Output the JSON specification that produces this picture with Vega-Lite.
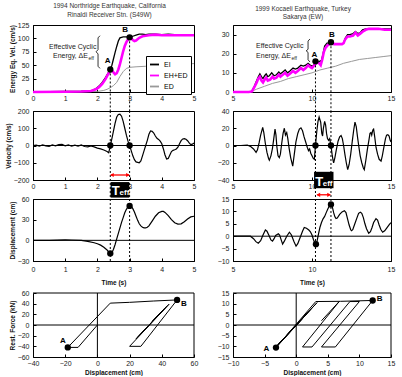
{
"$schema":"https://vega.github.io/schema/vega-lite/v6.json",
"background":"white",
"padding":{"left":4,"top":2,"right":0,"bottom":0},
"bounds":"flush",
"columns":2,
"spacing":{"row":19,"column":39},
"config":{
 "font":"Liberation Sans",
 "view":{"stroke":"black","strokeWidth":1},
 "axis":{"grid":false,"domainColor":"black","domainWidth":1,"tickColor":"black","tickSize":-3,"labelFontSize":7,"labelColor":"#222","titleFontSize":6.5,"titleFontWeight":"bold","titleColor":"#111","labelFlush":false,"labelOverlap":false},
 "axisY":{"titlePadding":2,"labelPadding":7},
 "axisX":{"titlePadding":5,"labelPadding":5},
 "title":{"fontSize":6.5,"fontWeight":"normal","color":"#333","offset":3,"lineHeight":8.5}
},
"datasets":{
 "eL":[
  {"s":"EI","x":0,"y":0},{"s":"EI","x":0.5,"y":0.5},{"s":"EI","x":1.0,"y":1},{"s":"EI","x":1.5,"y":1.5},{"s":"EI","x":1.7,"y":2},{"s":"EI","x":1.85,"y":3},{"s":"EI","x":1.95,"y":6},{"s":"EI","x":2.05,"y":11},{"s":"EI","x":2.15,"y":18},{"s":"EI","x":2.25,"y":27},{"s":"EI","x":2.35,"y":37},{"s":"EI","x":2.4,"y":42},{"s":"EI","x":2.45,"y":50},{"s":"EI","x":2.5,"y":62},{"s":"EI","x":2.55,"y":74},{"s":"EI","x":2.6,"y":85},{"s":"EI","x":2.65,"y":95},{"s":"EI","x":2.7,"y":101},{"s":"EI","x":2.8,"y":103},{"s":"EI","x":2.9,"y":103},{"s":"EI","x":3.0,"y":102},{"s":"EI","x":3.1,"y":104},{"s":"EI","x":3.2,"y":106},{"s":"EI","x":3.3,"y":108},{"s":"EI","x":3.4,"y":108},{"s":"EI","x":3.5,"y":107},{"s":"EI","x":3.6,"y":108},{"s":"EI","x":3.8,"y":108},{"s":"EI","x":4.0,"y":107},{"s":"EI","x":4.2,"y":108},{"s":"EI","x":4.4,"y":107},{"s":"EI","x":4.7,"y":107},{"s":"EI","x":5.0,"y":107},
  {"s":"EH+ED","x":0,"y":0},{"s":"EH+ED","x":1.0,"y":0.5},{"s":"EH+ED","x":1.5,"y":1},{"s":"EH+ED","x":1.8,"y":2},{"s":"EH+ED","x":1.95,"y":5},{"s":"EH+ED","x":2.05,"y":9},{"s":"EH+ED","x":2.15,"y":15},{"s":"EH+ED","x":2.25,"y":24},{"s":"EH+ED","x":2.35,"y":35},{"s":"EH+ED","x":2.42,"y":42},{"s":"EH+ED","x":2.48,"y":38},{"s":"EH+ED","x":2.55,"y":33},{"s":"EH+ED","x":2.6,"y":35},{"s":"EH+ED","x":2.65,"y":42},{"s":"EH+ED","x":2.7,"y":52},{"s":"EH+ED","x":2.75,"y":64},{"s":"EH+ED","x":2.8,"y":76},{"s":"EH+ED","x":2.85,"y":86},{"s":"EH+ED","x":2.9,"y":93},{"s":"EH+ED","x":2.95,"y":98},{"s":"EH+ED","x":3.0,"y":100},{"s":"EH+ED","x":3.05,"y":100},{"s":"EH+ED","x":3.1,"y":97},{"s":"EH+ED","x":3.15,"y":95},{"s":"EH+ED","x":3.2,"y":96},{"s":"EH+ED","x":3.3,"y":101},{"s":"EH+ED","x":3.4,"y":104},{"s":"EH+ED","x":3.5,"y":105},{"s":"EH+ED","x":3.6,"y":106},{"s":"EH+ED","x":3.8,"y":107},{"s":"EH+ED","x":4.0,"y":106},{"s":"EH+ED","x":4.3,"y":106},{"s":"EH+ED","x":4.6,"y":106},{"s":"EH+ED","x":5.0,"y":106},
  {"s":"ED","x":0,"y":0},{"s":"ED","x":1.0,"y":0.5},{"s":"ED","x":2.0,"y":1},{"s":"ED","x":2.2,"y":3},{"s":"ED","x":2.3,"y":5},{"s":"ED","x":2.4,"y":8},{"s":"ED","x":2.5,"y":12},{"s":"ED","x":2.6,"y":18},{"s":"ED","x":2.7,"y":29},{"s":"ED","x":2.8,"y":38},{"s":"ED","x":2.9,"y":44},{"s":"ED","x":3.0,"y":46},{"s":"ED","x":3.2,"y":47},{"s":"ED","x":3.5,"y":48},{"s":"ED","x":4.0,"y":50},{"s":"ED","x":4.5,"y":52},{"s":"ED","x":5.0,"y":53}
 ],
 "eR":[
  {"s":"EI","x":5,"y":0},{"s":"EI","x":6.0,"y":0},{"s":"EI","x":6.2,"y":0.5},{"s":"EI","x":6.35,"y":3},{"s":"EI","x":6.5,"y":6},{"s":"EI","x":6.6,"y":8},{"s":"EI","x":6.7,"y":9.5},{"s":"EI","x":6.8,"y":8},{"s":"EI","x":6.9,"y":7},{"s":"EI","x":7.0,"y":8.5},{"s":"EI","x":7.1,"y":9.5},{"s":"EI","x":7.2,"y":8},{"s":"EI","x":7.3,"y":8.5},{"s":"EI","x":7.45,"y":10},{"s":"EI","x":7.6,"y":8.5},{"s":"EI","x":7.75,"y":9},{"s":"EI","x":7.9,"y":10.5},{"s":"EI","x":8.0,"y":9.5},{"s":"EI","x":8.15,"y":10.5},{"s":"EI","x":8.3,"y":11.5},{"s":"EI","x":8.45,"y":10},{"s":"EI","x":8.6,"y":11},{"s":"EI","x":8.8,"y":12.5},{"s":"EI","x":8.95,"y":12},{"s":"EI","x":9.1,"y":12.5},{"s":"EI","x":9.3,"y":14},{"s":"EI","x":9.45,"y":13.5},{"s":"EI","x":9.6,"y":14},{"s":"EI","x":9.75,"y":15},{"s":"EI","x":9.9,"y":14},{"s":"EI","x":10.0,"y":13.5},{"s":"EI","x":10.1,"y":14},{"s":"EI","x":10.2,"y":15.5},{"s":"EI","x":10.35,"y":16},{"s":"EI","x":10.5,"y":16},{"s":"EI","x":10.6,"y":16.5},{"s":"EI","x":10.7,"y":20},{"s":"EI","x":10.8,"y":24},{"s":"EI","x":10.95,"y":25.5},{"s":"EI","x":11.1,"y":25.5},{"s":"EI","x":11.2,"y":25.8},{"s":"EI","x":11.4,"y":25},{"s":"EI","x":11.6,"y":25},{"s":"EI","x":11.9,"y":25},{"s":"EI","x":12.0,"y":25.5},{"s":"EI","x":12.1,"y":28},{"s":"EI","x":12.25,"y":30},{"s":"EI","x":12.4,"y":30},{"s":"EI","x":12.6,"y":30.5},{"s":"EI","x":12.75,"y":31.5},{"s":"EI","x":12.9,"y":30.5},{"s":"EI","x":13.05,"y":31},{"s":"EI","x":13.2,"y":32.5},{"s":"EI","x":13.4,"y":33},{"s":"EI","x":13.6,"y":33},{"s":"EI","x":14.2,"y":33},{"s":"EI","x":14.6,"y":33},{"s":"EI","x":15,"y":33},
  {"s":"EH+ED","x":5,"y":0},{"s":"EH+ED","x":6.0,"y":0},{"s":"EH+ED","x":6.2,"y":0.3},{"s":"EH+ED","x":6.35,"y":2.5},{"s":"EH+ED","x":6.5,"y":5},{"s":"EH+ED","x":6.6,"y":7},{"s":"EH+ED","x":6.7,"y":8},{"s":"EH+ED","x":6.8,"y":6},{"s":"EH+ED","x":6.9,"y":5},{"s":"EH+ED","x":7.0,"y":6.5},{"s":"EH+ED","x":7.1,"y":7.5},{"s":"EH+ED","x":7.2,"y":6},{"s":"EH+ED","x":7.35,"y":6.5},{"s":"EH+ED","x":7.5,"y":8},{"s":"EH+ED","x":7.6,"y":7},{"s":"EH+ED","x":7.75,"y":7.5},{"s":"EH+ED","x":7.9,"y":9},{"s":"EH+ED","x":8.0,"y":8},{"s":"EH+ED","x":8.15,"y":9},{"s":"EH+ED","x":8.3,"y":10},{"s":"EH+ED","x":8.45,"y":8.5},{"s":"EH+ED","x":8.6,"y":9.5},{"s":"EH+ED","x":8.8,"y":11},{"s":"EH+ED","x":8.95,"y":10},{"s":"EH+ED","x":9.1,"y":11},{"s":"EH+ED","x":9.3,"y":12.5},{"s":"EH+ED","x":9.45,"y":11.5},{"s":"EH+ED","x":9.6,"y":12.5},{"s":"EH+ED","x":9.75,"y":14},{"s":"EH+ED","x":9.9,"y":13},{"s":"EH+ED","x":10.0,"y":12.5},{"s":"EH+ED","x":10.1,"y":13.5},{"s":"EH+ED","x":10.2,"y":14.5},{"s":"EH+ED","x":10.35,"y":15.5},{"s":"EH+ED","x":10.45,"y":15},{"s":"EH+ED","x":10.55,"y":14},{"s":"EH+ED","x":10.65,"y":17},{"s":"EH+ED","x":10.75,"y":21},{"s":"EH+ED","x":10.85,"y":23},{"s":"EH+ED","x":11.0,"y":24.5},{"s":"EH+ED","x":11.2,"y":25.5},{"s":"EH+ED","x":11.4,"y":25},{"s":"EH+ED","x":11.6,"y":25},{"s":"EH+ED","x":11.9,"y":25},{"s":"EH+ED","x":12.0,"y":25.5},{"s":"EH+ED","x":12.1,"y":27.5},{"s":"EH+ED","x":12.25,"y":29},{"s":"EH+ED","x":12.4,"y":29},{"s":"EH+ED","x":12.6,"y":29.5},{"s":"EH+ED","x":12.75,"y":31},{"s":"EH+ED","x":12.9,"y":29.5},{"s":"EH+ED","x":13.05,"y":30.5},{"s":"EH+ED","x":13.2,"y":31.5},{"s":"EH+ED","x":13.4,"y":32.5},{"s":"EH+ED","x":13.6,"y":33},{"s":"EH+ED","x":14.2,"y":33},{"s":"EH+ED","x":14.6,"y":32.5},{"s":"EH+ED","x":15,"y":32.5},
  {"s":"ED","x":5,"y":0},{"s":"ED","x":6.1,"y":0},{"s":"ED","x":6.5,"y":1.5},{"s":"ED","x":7.0,"y":3},{"s":"ED","x":7.5,"y":4.5},{"s":"ED","x":8.0,"y":5.5},{"s":"ED","x":8.5,"y":7},{"s":"ED","x":9.0,"y":8},{"s":"ED","x":9.5,"y":9},{"s":"ED","x":10.0,"y":10},{"s":"ED","x":10.5,"y":11.5},{"s":"ED","x":11.0,"y":12.5},{"s":"ED","x":11.5,"y":13.5},{"s":"ED","x":12.0,"y":15},{"s":"ED","x":12.5,"y":16},{"s":"ED","x":13.0,"y":17},{"s":"ED","x":13.5,"y":17.5},{"s":"ED","x":14.0,"y":18},{"s":"ED","x":14.5,"y":18.5},{"s":"ED","x":15.0,"y":19}
 ],
 "vL":[{"x":0,"y":0},{"x":0.1,"y":2},{"x":0.2,"y":-3},{"x":0.3,"y":4},{"x":0.4,"y":-2},{"x":0.5,"y":-5},{"x":0.6,"y":3},{"x":0.7,"y":-2},{"x":0.8,"y":5},{"x":0.9,"y":6},{"x":1.0,"y":-2},{"x":1.1,"y":3},{"x":1.2,"y":-4},{"x":1.3,"y":2},{"x":1.4,"y":-3},{"x":1.5,"y":3},{"x":1.6,"y":-6},{"x":1.7,"y":-8},{"x":1.8,"y":-3},{"x":1.9,"y":-8},{"x":2.0,"y":-15},{"x":2.1,"y":-20},{"x":2.2,"y":-26},{"x":2.3,"y":-35},{"x":2.35,"y":-42},{"x":2.38,"y":-20},{"x":2.4,"y":0},{"x":2.45,"y":40},{"x":2.5,"y":85},{"x":2.55,"y":130},{"x":2.6,"y":165},{"x":2.65,"y":180},{"x":2.7,"y":182},{"x":2.75,"y":170},{"x":2.8,"y":140},{"x":2.85,"y":100},{"x":2.9,"y":60},{"x":2.95,"y":25},{"x":3.0,"y":0},{"x":3.05,"y":-30},{"x":3.1,"y":-60},{"x":3.15,"y":-82},{"x":3.2,"y":-95},{"x":3.3,"y":-100},{"x":3.35,"y":-90},{"x":3.4,"y":-60},{"x":3.45,"y":-30},{"x":3.5,"y":0},{"x":3.55,"y":30},{"x":3.6,"y":65},{"x":3.65,"y":84},{"x":3.7,"y":82},{"x":3.75,"y":72},{"x":3.8,"y":55},{"x":3.85,"y":42},{"x":3.9,"y":35},{"x":3.95,"y":25},{"x":4.0,"y":10},{"x":4.05,"y":-20},{"x":4.1,"y":-55},{"x":4.15,"y":-78},{"x":4.2,"y":-75},{"x":4.25,"y":-55},{"x":4.3,"y":-35},{"x":4.35,"y":-28},{"x":4.4,"y":-25},{"x":4.45,"y":-20},{"x":4.5,"y":-10},{"x":4.55,"y":10},{"x":4.6,"y":28},{"x":4.65,"y":38},{"x":4.7,"y":40},{"x":4.75,"y":36},{"x":4.8,"y":28},{"x":4.85,"y":15},{"x":4.9,"y":5},{"x":4.95,"y":8},{"x":5.0,"y":15}],
 "vR":[{"x":5,"y":0},{"x":5.5,"y":0},{"x":5.9,"y":0.5},{"x":6.1,"y":-1},{"x":6.3,"y":-4},{"x":6.46,"y":-8},{"x":6.55,"y":-5},{"x":6.65,"y":3},{"x":6.75,"y":12},{"x":6.88,"y":21},{"x":6.95,"y":15},{"x":7.05,"y":2},{"x":7.15,"y":-8},{"x":7.25,"y":-15},{"x":7.3,"y":-17},{"x":7.4,"y":-12},{"x":7.5,"y":-3},{"x":7.58,"y":8},{"x":7.66,"y":19},{"x":7.72,"y":12},{"x":7.78,"y":-2},{"x":7.85,"y":-12},{"x":7.93,"y":-14},{"x":8.0,"y":-10},{"x":8.08,"y":2},{"x":8.17,"y":14},{"x":8.25,"y":20},{"x":8.32,"y":12},{"x":8.4,"y":15},{"x":8.47,"y":8},{"x":8.55,"y":-3},{"x":8.65,"y":-14},{"x":8.78,"y":-24},{"x":8.88,"y":-10},{"x":8.98,"y":4},{"x":9.1,"y":14},{"x":9.2,"y":19},{"x":9.3,"y":20.5},{"x":9.4,"y":17},{"x":9.5,"y":10},{"x":9.6,"y":4},{"x":9.7,"y":-2},{"x":9.78,"y":-6},{"x":9.85,"y":-4},{"x":9.92,"y":-9},{"x":10.0,"y":-12},{"x":10.08,"y":-15},{"x":10.15,"y":-16},{"x":10.22,"y":0},{"x":10.3,"y":16},{"x":10.38,"y":28},{"x":10.45,"y":33},{"x":10.55,"y":27},{"x":10.62,"y":14},{"x":10.67,"y":11},{"x":10.72,"y":20},{"x":10.8,"y":28},{"x":10.86,"y":24},{"x":10.92,"y":14},{"x":10.98,"y":8},{"x":11.05,"y":6},{"x":11.12,"y":8},{"x":11.2,"y":0},{"x":11.27,"y":-10},{"x":11.33,"y":-17},{"x":11.37,"y":-20},{"x":11.45,"y":-14},{"x":11.55,"y":-4},{"x":11.65,"y":5},{"x":11.75,"y":10},{"x":11.84,"y":11.5},{"x":11.92,"y":8},{"x":12.0,"y":0},{"x":12.08,"y":-10},{"x":12.17,"y":-20},{"x":12.26,"y":-28},{"x":12.35,"y":-22},{"x":12.45,"y":-10},{"x":12.55,"y":5},{"x":12.64,"y":18},{"x":12.72,"y":27},{"x":12.8,"y":22},{"x":12.88,"y":10},{"x":12.97,"y":-2},{"x":13.05,"y":-12},{"x":13.15,"y":-20},{"x":13.25,"y":-26},{"x":13.31,"y":-28},{"x":13.4,"y":-18},{"x":13.5,"y":-5},{"x":13.6,"y":6},{"x":13.67,"y":14},{"x":13.73,"y":15},{"x":13.78,"y":12},{"x":13.85,"y":18},{"x":13.9,"y":19},{"x":13.97,"y":10},{"x":14.05,"y":-2},{"x":14.15,"y":-10},{"x":14.25,"y":-16},{"x":14.37,"y":-18},{"x":14.45,"y":-12},{"x":14.55,"y":-2},{"x":14.65,"y":8},{"x":14.72,"y":12},{"x":14.8,"y":12.5},{"x":14.88,"y":11},{"x":14.95,"y":6},{"x":15.0,"y":4}],
 "dL":[{"x":0,"y":0},{"x":0.5,"y":0},{"x":1.0,"y":0.8},{"x":1.2,"y":0.5},{"x":1.5,"y":0},{"x":1.7,"y":-1.5},{"x":1.9,"y":-3.5},{"x":2.0,"y":-5},{"x":2.1,"y":-7},{"x":2.2,"y":-10},{"x":2.3,"y":-14},{"x":2.35,"y":-17},{"x":2.4,"y":-19},{"x":2.45,"y":-18},{"x":2.5,"y":-13},{"x":2.55,"y":-6},{"x":2.6,"y":2},{"x":2.65,"y":10},{"x":2.7,"y":18},{"x":2.75,"y":26},{"x":2.8,"y":33},{"x":2.85,"y":40},{"x":2.9,"y":45},{"x":2.95,"y":48.5},{"x":3.0,"y":50},{"x":3.05,"y":49.5},{"x":3.1,"y":46},{"x":3.15,"y":41},{"x":3.2,"y":35},{"x":3.25,"y":29},{"x":3.3,"y":24},{"x":3.35,"y":21},{"x":3.4,"y":19},{"x":3.45,"y":18.2},{"x":3.5,"y":18},{"x":3.55,"y":19},{"x":3.6,"y":21},{"x":3.7,"y":28},{"x":3.8,"y":35},{"x":3.9,"y":40},{"x":4.0,"y":42},{"x":4.05,"y":42},{"x":4.1,"y":40.5},{"x":4.2,"y":36},{"x":4.3,"y":30},{"x":4.4,"y":25.5},{"x":4.5,"y":23.5},{"x":4.6,"y":24},{"x":4.7,"y":27},{"x":4.8,"y":31},{"x":4.9,"y":34},{"x":5.0,"y":35}],
 "dR":[{"x":5,"y":0},{"x":6.1,"y":0},{"x":6.3,"y":-1},{"x":6.45,"y":-2.2},{"x":6.6,"y":-2.8},{"x":6.75,"y":-1.8},{"x":6.9,"y":0.5},{"x":7.05,"y":2.5},{"x":7.15,"y":2},{"x":7.3,"y":0},{"x":7.4,"y":-1.5},{"x":7.5,"y":-2},{"x":7.6,"y":-1},{"x":7.7,"y":0.3},{"x":7.87,"y":1},{"x":7.95,"y":0.5},{"x":8.05,"y":-1.5},{"x":8.14,"y":-3.2},{"x":8.25,"y":-2},{"x":8.4,"y":0},{"x":8.57,"y":1.6},{"x":8.7,"y":0.5},{"x":8.85,"y":-2},{"x":8.99,"y":-4},{"x":9.1,"y":-3},{"x":9.25,"y":-0.5},{"x":9.4,"y":2},{"x":9.51,"y":3.5},{"x":9.65,"y":3.2},{"x":9.8,"y":2.5},{"x":9.9,"y":1.8},{"x":10.0,"y":0.5},{"x":10.1,"y":-1.5},{"x":10.2,"y":-3},{"x":10.25,"y":-3.2},{"x":10.32,"y":-2},{"x":10.4,"y":0.5},{"x":10.5,"y":3.5},{"x":10.6,"y":5.5},{"x":10.7,"y":7},{"x":10.8,"y":8},{"x":10.9,"y":9.5},{"x":11.0,"y":11},{"x":11.1,"y":12.2},{"x":11.2,"y":12.8},{"x":11.28,"y":12},{"x":11.37,"y":9.5},{"x":11.45,"y":7.8},{"x":11.52,"y":7.1},{"x":11.6,"y":7.3},{"x":11.75,"y":8.8},{"x":11.9,"y":9.8},{"x":12.05,"y":10.3},{"x":12.15,"y":9.5},{"x":12.25,"y":7},{"x":12.35,"y":4.5},{"x":12.45,"y":2.6},{"x":12.5,"y":2.2},{"x":12.58,"y":2.6},{"x":12.7,"y":4.8},{"x":12.85,"y":7.5},{"x":12.95,"y":9.2},{"x":13.06,"y":9.7},{"x":13.15,"y":9.2},{"x":13.25,"y":7.5},{"x":13.35,"y":5},{"x":13.45,"y":3},{"x":13.59,"y":1.2},{"x":13.7,"y":1.8},{"x":13.8,"y":3.5},{"x":13.9,"y":5.5},{"x":14.05,"y":7.1},{"x":14.15,"y":6.5},{"x":14.25,"y":4.5},{"x":14.35,"y":2.8},{"x":14.47,"y":1.6},{"x":14.6,"y":2.2},{"x":14.75,"y":3.5},{"x":14.9,"y":4.8},{"x":15.0,"y":5.5}],
 "fL":[{"i":0,"x":0,"y":0},{"i":1,"x":-12,"y":-42},{"i":2,"x":-18.4,"y":-42},{"i":3,"x":8,"y":41},{"i":4,"x":20,"y":42.5},{"i":5,"x":35,"y":45},{"i":6,"x":49.5,"y":47},{"i":7,"x":27,"y":-40},{"i":8,"x":20,"y":-40},{"i":9,"x":44.5,"y":39},{"i":10,"x":24,"y":-26},{"i":11,"x":43,"y":35},{"i":12,"x":25,"y":-23},{"i":13,"x":42,"y":32},{"i":14,"x":34,"y":7}],
 "fR":[{"i":0,"x":0,"y":0},{"i":1,"x":-2.8,"y":-9},{"i":2,"x":2.5,"y":8},{"i":3,"x":-2,"y":-6.5},{"i":4,"x":1,"y":3},{"i":5,"x":-3.2,"y":-10.4},{"i":6,"x":1.6,"y":5},{"i":7,"x":-3.3,"y":-10.5},{"i":8,"x":3.3,"y":10.5},{"i":9,"x":-3.2,"y":-10.6},{"i":10,"x":3.1,"y":11},{"i":11,"x":7,"y":11.1},{"i":12,"x":12.1,"y":11.5},{"i":13,"x":6.2,"y":-10.3},{"i":14,"x":4.0,"y":-10.3},{"i":15,"x":10,"y":11},{"i":16,"x":8.5,"y":11},{"i":17,"x":2.5,"y":-10.3},{"i":18,"x":1.0,"y":-10.3},{"i":19,"x":6.8,"y":11},{"i":20,"x":4,"y":2}]
},
"concat":[
 {
  "width":161,"height":67,
  "title":{"text":["1994 Northridge Earthquake, California","Rinaldi Receiver Stn. (S49W)"],"dx":-4},
  "encoding":{
   "x":{"field":"x","type":"quantitative","scale":{"domain":[0,5]},"axis":{"values":[0,1,2,3,4,5],"title":null}},
   "y":{"field":"y","type":"quantitative","scale":{"domain":[0,125]},"axis":{"values":[0,25,50,75,100,125],"title":"Energy Eq. Vel. (cm/s)"}}
  },
  "layer":[
   {"data":{"name":"eL"},"transform":[{"filter":"datum.s=='ED'"}],"mark":{"type":"line","strokeWidth":1},
    "encoding":{"color":{"field":"s","type":"nominal","scale":{"domain":["EI","EH+ED","ED"],"range":["#000000","#ff00ff","#999999"]},"legend":{"title":null,"orient":"none","legendX":113,"legendY":31,"symbolType":"stroke","symbolSize":81,"symbolStrokeWidth":1.8,"labelFontSize":7,"padding":3,"rowPadding":1,"strokeColor":"black","fillColor":"white","labelOffset":4,"cornerRadius":0}}}},
   {"data":{"name":"eL"},"transform":[{"filter":"datum.s=='EI'"}],"mark":{"type":"line","strokeWidth":1.3},
    "encoding":{"color":{"field":"s","type":"nominal"}}},
   {"data":{"name":"eL"},"transform":[{"filter":"datum.s=='EH+ED'"}],"mark":{"type":"line","strokeWidth":2.6},
    "encoding":{"color":{"field":"s","type":"nominal"}}},
   {"data":{"values":[{"x":2.4,"y":42,"y2":-36},{"x":3.0,"y":102,"y2":-36}]},"mark":{"type":"rule","strokeDash":[2,2],"color":"black","strokeWidth":1},"encoding":{"y2":{"field":"y2"}}},
   {"data":{"values":[{"x":2.4,"y":42},{"x":3.0,"y":102}]},"mark":{"type":"point","filled":true,"color":"black","size":40,"opacity":1},"encoding":{}},
   {"data":{"values":[{"x":2.32,"y":58,"label":"A"},{"x":2.86,"y":115,"label":"B"}]},"mark":{"type":"text","fontSize":8,"fontWeight":"bold","color":"black"},"encoding":{"text":{"field":"label"}}},
   {"data":{"values":[{"x":0.5,"y":84,"label":"Effective Cyclic"},{"x":0.62,"y":67,"label":"Energy, ΔE"}]},"mark":{"type":"text","fontSize":7,"align":"left","color":"#222"},"encoding":{"text":{"field":"label"}}},
   {"data":{"values":[{"x":1.72,"y":63.5,"label":"eff"}]},"mark":{"type":"text","fontSize":5,"align":"left","color":"#222"},"encoding":{"text":{"field":"label"}}},
   {"data":{"values":[{"i":0,"x":2.08,"y":105},{"i":1,"x":2.02,"y":101},{"i":2,"x":2.02,"y":79},{"i":3,"x":1.96,"y":75},{"i":4,"x":2.02,"y":71},{"i":5,"x":2.02,"y":48},{"i":6,"x":2.08,"y":44}]},"mark":{"type":"line","color":"black","strokeWidth":0.8},"encoding":{"order":{"field":"i","type":"quantitative"}}}
  ]
 },
 {
  "width":158,"height":67,
  "title":{"text":["1999 Kocaeli Earthquake, Turkey","Sakarya (EW)"],"dx":-9},
  "encoding":{
   "x":{"field":"x","type":"quantitative","scale":{"domain":[5,15]},"axis":{"values":[5,10,15],"title":null}},
   "y":{"field":"y","type":"quantitative","scale":{"domain":[0,35]},"axis":{"values":[0,10,20,30],"title":null}}
  },
  "layer":[
   {"data":{"name":"eR"},"transform":[{"filter":"datum.s=='ED'"}],"mark":{"type":"line","color":"#999999","strokeWidth":1}},
   {"data":{"name":"eR"},"transform":[{"filter":"datum.s=='EI'"}],"mark":{"type":"line","color":"#000000","strokeWidth":1.3}},
   {"data":{"name":"eR"},"transform":[{"filter":"datum.s=='EH+ED'"}],"mark":{"type":"line","color":"#ff00ff","strokeWidth":2.6}},
   {"data":{"values":[{"x":10.22,"y":16,"y2":-10},{"x":11.2,"y":26,"y2":-10}]},"mark":{"type":"rule","strokeDash":[2,2],"color":"black","strokeWidth":1},"encoding":{"y2":{"field":"y2"}}},
   {"data":{"values":[{"x":10.22,"y":16},{"x":11.2,"y":26}]},"mark":{"type":"point","filled":true,"color":"black","size":40,"opacity":1},"encoding":{}},
   {"data":{"values":[{"x":10.15,"y":19.5,"label":"A"},{"x":11.26,"y":29.8,"label":"B"}]},"mark":{"type":"text","fontSize":8,"fontWeight":"bold","color":"black"},"encoding":{"text":{"field":"label"}}},
   {"data":{"values":[{"x":6.46,"y":24,"label":"Effective Cyclic"},{"x":6.46,"y":18.8,"label":"Energy, ΔE"}]},"mark":{"type":"text","fontSize":7,"align":"left","color":"#222"},"encoding":{"text":{"field":"label"}}},
   {"data":{"values":[{"x":8.7,"y":17.7,"label":"eff"}]},"mark":{"type":"text","fontSize":5,"align":"left","color":"#222"},"encoding":{"text":{"field":"label"}}},
   {"data":{"values":[{"i":0,"x":9.87,"y":27.7},{"i":1,"x":9.75,"y":26.6},{"i":2,"x":9.75,"y":22.3},{"i":3,"x":9.63,"y":21.5},{"i":4,"x":9.75,"y":20.7},{"i":5,"x":9.75,"y":16.8},{"i":6,"x":9.87,"y":15.7}]},"mark":{"type":"line","color":"black","strokeWidth":0.8},"encoding":{"order":{"field":"i","type":"quantitative"}}}
  ]
 },
 {
  "width":161,"height":69,
  "encoding":{
   "x":{"field":"x","type":"quantitative","scale":{"domain":[0,5]},"axis":{"values":[0,1,2,3,4,5],"title":null}},
   "y":{"field":"y","type":"quantitative","scale":{"domain":[-200,200]},"axis":{"values":[-200,-100,0,100,200],"title":"Velocity (cm/s)"}}
  },
  "layer":[
   {"data":{"values":[{"x":0,"x2":5,"y":0,"y2":0}]},"mark":{"type":"rule","color":"black","strokeWidth":1},"encoding":{"x2":{"field":"x2"},"y2":{"field":"y2"}}},
   {"data":{"values":[{"x":2.4,"y":200,"y2":-310},{"x":3.0,"y":200,"y2":-310}]},"mark":{"type":"rule","strokeDash":[2,2],"color":"black","strokeWidth":1},"encoding":{"y2":{"field":"y2"}}},
   {"data":{"name":"vL"},"mark":{"type":"line","color":"black","strokeWidth":1.2}},
   {"data":{"values":[{"x":2.4,"y":0},{"x":3.0,"y":0}]},"mark":{"type":"point","filled":true,"color":"black","size":40,"opacity":1},"encoding":{}},
   {"data":{"values":[{"x":2.42,"x2":2.98,"y":-171,"y2":-171}]},"mark":{"type":"rule","color":"#ff0000","strokeWidth":1.3},"encoding":{"x2":{"field":"x2"},"y2":{"field":"y2"}}},
   {"data":{"values":[{"x":2.45,"y":-171}]},"mark":{"type":"point","shape":"triangle-left","filled":true,"color":"#ff0000","size":18,"opacity":1},"encoding":{}},
   {"data":{"values":[{"x":2.95,"y":-171}]},"mark":{"type":"point","shape":"triangle-right","filled":true,"color":"#ff0000","size":18,"opacity":1},"encoding":{}},
   {"data":{"values":[{"x":2.41,"x2":2.99,"y":-212,"y2":-302}]},"mark":{"type":"rect","color":"black"},"encoding":{"x2":{"field":"x2"},"y2":{"field":"y2"}}},
   {"data":{"values":[{"x":2.57,"y":-285,"label":"T"}]},"mark":{"type":"text","fontSize":13,"fontWeight":"bold","color":"white","baseline":"alphabetic"},"encoding":{"text":{"field":"label"}}},
   {"data":{"values":[{"x":2.84,"y":-285,"label":"eff"}]},"mark":{"type":"text","fontSize":8,"fontWeight":"bold","color":"white","baseline":"alphabetic"},"encoding":{"text":{"field":"label"}}}
  ]
 },
 {
  "width":158,"height":69,
  "encoding":{
   "x":{"field":"x","type":"quantitative","scale":{"domain":[5,15]},"axis":{"values":[5,10,15],"title":null}},
   "y":{"field":"y","type":"quantitative","scale":{"domain":[-40,40]},"axis":{"values":[-40,-20,0,20,40],"title":null}}
  },
  "layer":[
   {"data":{"values":[{"x":5,"x2":15,"y":0,"y2":0}]},"mark":{"type":"rule","color":"black","strokeWidth":1},"encoding":{"x2":{"field":"x2"},"y2":{"field":"y2"}}},
   {"data":{"values":[{"x":10.22,"y":40,"y2":-62},{"x":11.2,"y":40,"y2":-62}]},"mark":{"type":"rule","strokeDash":[2,2],"color":"black","strokeWidth":1},"encoding":{"y2":{"field":"y2"}}},
   {"data":{"name":"vR"},"mark":{"type":"line","color":"black","strokeWidth":1.2}},
   {"data":{"values":[{"x":10.22,"y":0},{"x":11.2,"y":0}]},"mark":{"type":"point","filled":true,"color":"black","size":40,"opacity":1},"encoding":{}},
   {"data":{"values":[{"x":10.13,"x2":11.36,"y":-30.5,"y2":-49.5}]},"mark":{"type":"rect","color":"black"},"encoding":{"x2":{"field":"x2"},"y2":{"field":"y2"}}},
   {"data":{"values":[{"x":10.46,"y":-46.5,"label":"T"}]},"mark":{"type":"text","fontSize":13,"fontWeight":"bold","color":"white","baseline":"alphabetic"},"encoding":{"text":{"field":"label"}}},
   {"data":{"values":[{"x":10.99,"y":-46.5,"label":"eff"}]},"mark":{"type":"text","fontSize":8,"fontWeight":"bold","color":"white","baseline":"alphabetic"},"encoding":{"text":{"field":"label"}}}
  ]
 },
 {
  "width":161,"height":62,
  "encoding":{
   "x":{"field":"x","type":"quantitative","scale":{"domain":[0,5]},"axis":{"values":[0,1,2,3,4,5],"title":"Time (s)","labelPadding":7,"titlePadding":7}},
   "y":{"field":"y","type":"quantitative","scale":{"domain":[-30,60]},"axis":{"values":[-30,0,30,60],"title":"Displacement (cm)"}}
  },
  "layer":[
   {"data":{"values":[{"x":0,"x2":5,"y":0,"y2":0}]},"mark":{"type":"rule","color":"black","strokeWidth":1},"encoding":{"x2":{"field":"x2"},"y2":{"field":"y2"}}},
   {"data":{"values":[{"x":2.4,"y":60,"y2":-30},{"x":3.0,"y":60,"y2":-30}]},"mark":{"type":"rule","strokeDash":[2,2],"color":"black","strokeWidth":1},"encoding":{"y2":{"field":"y2"}}},
   {"data":{"name":"dL"},"mark":{"type":"line","color":"black","strokeWidth":1.2}},
   {"data":{"values":[{"x":2.4,"y":-19},{"x":3.0,"y":50}]},"mark":{"type":"point","filled":true,"color":"black","size":40,"opacity":1},"encoding":{}}
  ]
 },
 {
  "width":158,"height":62,
  "encoding":{
   "x":{"field":"x","type":"quantitative","scale":{"domain":[5,15]},"axis":{"values":[5,10,15],"title":"Time (s)","labelPadding":7,"titlePadding":7}},
   "y":{"field":"y","type":"quantitative","scale":{"domain":[-10,15]},"axis":{"values":[-10,-5,0,5,10,15],"title":null}}
  },
  "layer":[
   {"data":{"values":[{"x":5,"x2":15,"y":0,"y2":0}]},"mark":{"type":"rule","color":"black","strokeWidth":1},"encoding":{"x2":{"field":"x2"},"y2":{"field":"y2"}}},
   {"data":{"values":[{"x":10.22,"y":15,"y2":-10},{"x":11.2,"y":15,"y2":-10}]},"mark":{"type":"rule","strokeDash":[2,2],"color":"black","strokeWidth":1},"encoding":{"y2":{"field":"y2"}}},
   {"data":{"name":"dR"},"mark":{"type":"line","color":"black","strokeWidth":1.2}},
   {"data":{"values":[{"x":10.25,"y":-3.2},{"x":11.2,"y":12.8}]},"mark":{"type":"point","filled":true,"color":"black","size":40,"opacity":1},"encoding":{}},
   {"data":{"values":[{"x":10.33,"x2":11.15,"y":16.7,"y2":16.7}]},"mark":{"type":"rule","color":"#ff0000","strokeWidth":1.3},"encoding":{"x2":{"field":"x2"},"y2":{"field":"y2"}}},
   {"data":{"values":[{"x":10.4,"y":16.7}]},"mark":{"type":"point","shape":"triangle-left","filled":true,"color":"#ff0000","size":18,"opacity":1},"encoding":{}},
   {"data":{"values":[{"x":11.08,"y":16.7}]},"mark":{"type":"point","shape":"triangle-right","filled":true,"color":"#ff0000","size":18,"opacity":1},"encoding":{}}
  ]
 },
 {
  "width":161,"height":77,
  "view":{"stroke":null},
  "encoding":{
   "x":{"field":"x","type":"quantitative","scale":{"domain":[-40,60]},"axis":{"values":[-40,-20,0,20,40,60],"title":"Displacement (cm)","titlePadding":3}},
   "y":{"field":"y","type":"quantitative","scale":{"domain":[-60,60],"range":[77,13]},"axis":{"values":[-60,-40,-20,0,20,40,60],"title":"Rest. Force (kN)"}}
  },
  "layer":[
   {"data":{"values":[{"x":-40,"x2":60,"y":60,"y2":60},{"x":60,"x2":60,"y":-60,"y2":60},{"x":-40,"x2":60,"y":0,"y2":0},{"x":0,"x2":0,"y":-60,"y2":60}]},"mark":{"type":"rule","color":"black","strokeWidth":1},"encoding":{"x2":{"field":"x2"},"y2":{"field":"y2"}}},
   {"data":{"name":"fL"},"mark":{"type":"line","color":"black","strokeWidth":1},"encoding":{"order":{"field":"i","type":"quantitative"}}},
   {"data":{"values":[{"x":-18.4,"y":-42},{"x":49.5,"y":47}]},"mark":{"type":"point","filled":true,"color":"black","size":40,"opacity":1},"encoding":{}},
   {"data":{"values":[{"x":-21.4,"y":-30,"label":"A"},{"x":53.7,"y":38.8,"label":"B"}]},"mark":{"type":"text","fontSize":8,"fontWeight":"bold","color":"black"},"encoding":{"text":{"field":"label"}}}
  ]
 },
 {
  "width":158,"height":77,
  "view":{"stroke":null},
  "encoding":{
   "x":{"field":"x","type":"quantitative","scale":{"domain":[-10,15]},"axis":{"values":[-10,-5,0,5,10,15],"title":"Displacement (cm)","titlePadding":3}},
   "y":{"field":"y","type":"quantitative","scale":{"domain":[-15,15],"range":[77,13]},"axis":{"values":[-15,-10,-5,0,5,10,15],"title":null}}
  },
  "layer":[
   {"data":{"values":[{"x":-10,"x2":15,"y":15,"y2":15},{"x":15,"x2":15,"y":-15,"y2":15},{"x":-10,"x2":15,"y":0,"y2":0},{"x":0,"x2":0,"y":-15,"y2":15}]},"mark":{"type":"rule","color":"black","strokeWidth":1},"encoding":{"x2":{"field":"x2"},"y2":{"field":"y2"}}},
   {"data":{"name":"fR"},"mark":{"type":"line","color":"black","strokeWidth":1},"encoding":{"order":{"field":"i","type":"quantitative"}}},
   {"data":{"values":[{"x":-3.2,"y":-10.6},{"x":12.1,"y":11.5}]},"mark":{"type":"point","filled":true,"color":"black","size":40,"opacity":1},"encoding":{}},
   {"data":{"values":[{"x":-4.7,"y":-11.1,"label":"A"},{"x":13.2,"y":12.3,"label":"B"}]},"mark":{"type":"text","fontSize":8,"fontWeight":"bold","color":"black"},"encoding":{"text":{"field":"label"}}}
  ]
 }
]
}
